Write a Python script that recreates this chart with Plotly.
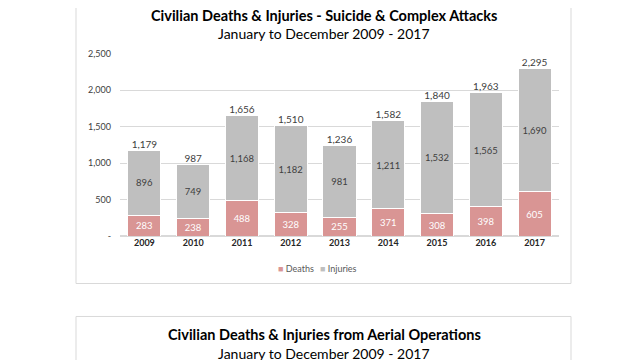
import plotly.graph_objects as go

years = ["2009", "2010", "2011", "2012", "2013", "2014", "2015", "2016", "2017"]
deaths = [283, 238, 488, 328, 255, 371, 308, 398, 605]
injuries = [896, 749, 1168, 1182, 981, 1211, 1532, 1565, 1690]
totals = [d + i for d, i in zip(deaths, injuries)]
ytick_vals = [0, 500, 1000, 1500, 2000, 2500]
ytick_text = ["-", "500", "1,000", "1,500", "2,000", "2,500"]

FONT = "Lato"
W, H = 640, 360
OFF = 8  # page body margin

def px_x(x):
    return (x - OFF) / W

def px_y(y):
    return 1 - (y - OFF) / H

fig = go.Figure()
fig.add_trace(go.Bar(
    x=years, y=deaths, name="Deaths",
    marker=dict(color="#D99594", line=dict(color="white", width=1)),
    text=[f"{v:,}" for v in deaths], textposition="inside", insidetextanchor="middle",
    textfont=dict(color="white", size=10, family=FONT),
))
fig.add_trace(go.Bar(
    x=years, y=injuries, name="Injuries",
    marker=dict(color="#BFBFBF", line=dict(color="white", width=1)),
    text=[f"{v:,}" for v in injuries], textposition="inside", insidetextanchor="middle",
    textfont=dict(color="#404040", size=10, family=FONT),
))
fig.add_trace(go.Scatter(
    x=years, y=totals, mode="text", text=[f"{v:,}" for v in totals],
    textposition="top center", textfont=dict(color="#404040", size=10, family=FONT),
    showlegend=False, hoverinfo="skip", cliponaxis=False,
))

fig.update_layout(
    width=W, height=H, margin=dict(l=0, r=0, t=0, b=0),
    paper_bgcolor="white", plot_bgcolor="white",
    barmode="stack", bargap=0.32,
    font=dict(family=FONT, color="#595959"),
    uniformtext=dict(minsize=8, mode="show"),
    xaxis=dict(domain=[px_x(120), px_x(559)], showgrid=False, showline=False,
               ticks="", tickfont=dict(size=9, color="#262626", weight="bold")),
    yaxis=dict(domain=[px_y(237), px_y(49)], range=[0, 2500],
               tickvals=ytick_vals, ticktext=ytick_text,
               showgrid=True, gridcolor="#D9D9D9", gridwidth=1,
               zeroline=True, zerolinecolor="#D9D9D9", showline=False,
               tickfont=dict(size=9, color="#404040"), ticks="", ticklabelstandoff=8),
    showlegend=False,
)

# chart boxes
fig.add_shape(type="rect", xref="paper", yref="paper",
              x0=px_x(76), x1=px_x(571), y0=px_y(286), y1=1.1,
              line=dict(color="#D9D9D9", width=1), layer="below")
fig.add_shape(type="rect", xref="paper", yref="paper",
              x0=px_x(76), x1=px_x(571), y0=-0.2, y1=px_y(320),
              line=dict(color="#D9D9D9", width=1), layer="below")

# legend
legend_items = [("Deaths", "#D99594", 296), ("Injuries", "#BFBFBF", 338)]
for name, col, cx in legend_items:
    fig.add_annotation(text=f"<span style='color:{col}'>■</span> {name}",
                       xref="paper", yref="paper", x=px_x(cx), y=px_y(271),
                       xanchor="center", yanchor="middle", showarrow=False,
                       font=dict(size=9, color="#595959", family=FONT))

titles = [
    ("<b>Civilian Deaths & Injuries - Suicide & Complex Attacks</b>", 10, 14.5),
    ("January to December 2009 - 2017", 28, 14),
    ("<b>Civilian Deaths & Injuries from Aerial Operations</b>", 339, 14.5),
    ("January to December 2009 - 2017", 358, 14),
]
for txt, y, sz in titles:
    fig.add_annotation(text=txt, xref="paper", yref="paper", x=px_x(324), y=px_y(y),
                       xanchor="center", yanchor="middle", showarrow=False,
                       font=dict(size=sz, color="#000000", family=FONT))

fig.write_html("out.html")
